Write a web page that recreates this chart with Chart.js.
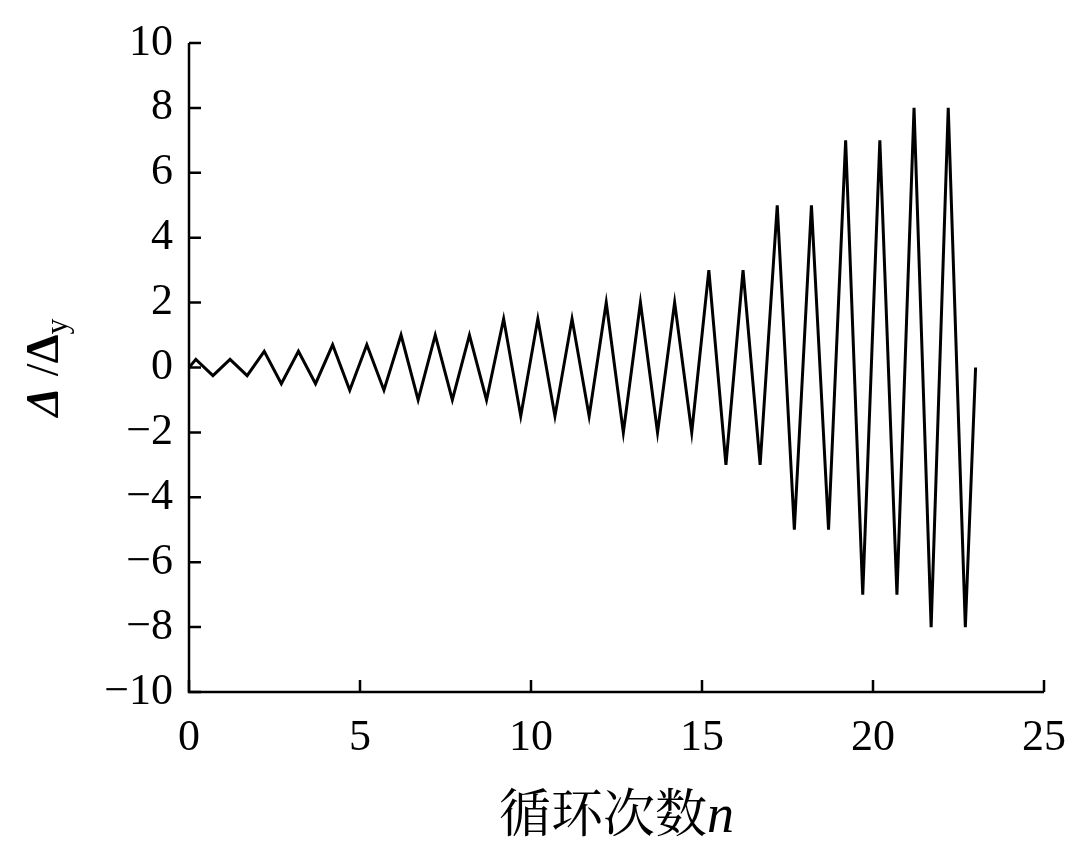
<!DOCTYPE html>
<html><head><meta charset="utf-8">
<script src="https://cdn.jsdelivr.net/npm/chart.js@4/dist/chart.umd.min.js"></script>
<style>html,body{margin:0;background:#fff}#w{width:1080px;height:848px}</style>
</head><body><div id="w"><canvas id="c"></canvas></div>
<script>
const peakX = [0.2,1.2,2.2,3.2,4.2,5.2,6.2,7.2,8.2,9.2,10.2,11.2,12.2,13.2,14.2,15.2,16.2,17.2,18.2,19.2,20.2,21.2,22.2];
const amplitude = [0.25,0.25,0.5,0.5,0.7,0.7,1,1,1,1.5,1.5,1.5,2,2,2,3,3,5,5,7,7,8,8];
const xTicks = [0,5,10,15,20,25];
const yTicks = [-10,-8,-6,-4,-2,0,2,4,6,8,10];
const points = [{x:0,y:0}];
peakX.forEach((px,i)=>{points.push({x:px,y:amplitude[i]});points.push({x:px+0.5,y:-amplitude[i]});});
points.push({x:23,y:0});
const F='"Liberation Serif", "Times New Roman", serif';
const deco={id:'deco',afterDraw(ch){
 const c=ch.ctx,a=ch.chartArea,xs=ch.scales.x,ys=ch.scales.y;
 c.save();c.strokeStyle='#000';c.lineWidth=2.5;
 c.beginPath();c.moveTo(a.left,a.top);c.lineTo(a.left,a.bottom);c.lineTo(a.right,a.bottom);c.stroke();
 c.beginPath();
 xTicks.forEach(v=>{const p=xs.getPixelForValue(v);c.moveTo(p,a.bottom);c.lineTo(p,a.bottom-12);});
 yTicks.forEach(v=>{const p=ys.getPixelForValue(v);c.moveTo(a.left,p);c.lineTo(a.left+12,p);});
 c.stroke();
 c.fillStyle='#000';
 c.textBaseline='alphabetic';c.textAlign='left';
 const CJ='52px "Noto Serif CJK SC","Noto Sans CJK SC"';
 const t1='循环次数';c.font=CJ;
 const w1=c.measureText(t1).width;c.font='italic 54px '+F;const w2=c.measureText('n').width;
 let x0=(a.left+a.right)/2-(w1+w2)/2;
 c.font=CJ;c.fillText(t1,x0,832);
 c.font='italic 54px '+F;c.fillText('n',x0+w1,832);
 c.translate(44,(a.top+a.bottom)/2);c.rotate(-Math.PI/2);
 const parts=[['Δ ','bold italic 46px '+F,0],['/','46px '+F,0],['Δ','bold 46px '+F,0],['y','32px '+F,9]];
 let tw=0;parts.forEach(p=>{c.font=p[1];tw+=c.measureText(p[0]).width;});
 let xx=-tw/2;parts.forEach(p=>{c.font=p[1];c.fillText(p[0],xx,p[2]+14);xx+=c.measureText(p[0]).width;});
 c.restore();
}};
new Chart(document.getElementById('c'),{type:'line',
 data:{datasets:[{data:points,borderColor:'#000',borderWidth:3,pointRadius:0,tension:0,fill:false}]},
 options:{responsive:true,maintainAspectRatio:false,animation:false,
  layout:{padding:{top:43,right:36,left:0,bottom:0}},
  plugins:{legend:{display:false},tooltip:{enabled:false}},
  scales:{
   x:{type:'linear',min:0,max:25,afterBuildTicks:s=>{s.ticks=xTicks.map(v=>({value:v}));},
      grid:{display:false},border:{display:false},
      ticks:{color:'#000',font:{family:F,size:44},padding:12,maxRotation:0},
      afterFit:s=>{s.height=156;}},
   y:{min:-10,max:10,afterBuildTicks:s=>{s.ticks=yTicks.map(v=>({value:v}));},
      grid:{display:false},border:{display:false},
      ticks:{color:'#000',font:{family:F,size:44},padding:8,callback:v=>v<0?'\u2212'+(-v):''+v},
      afterFit:s=>{s.width=189;}}
  }},
 plugins:[deco]});
</script></body></html>
